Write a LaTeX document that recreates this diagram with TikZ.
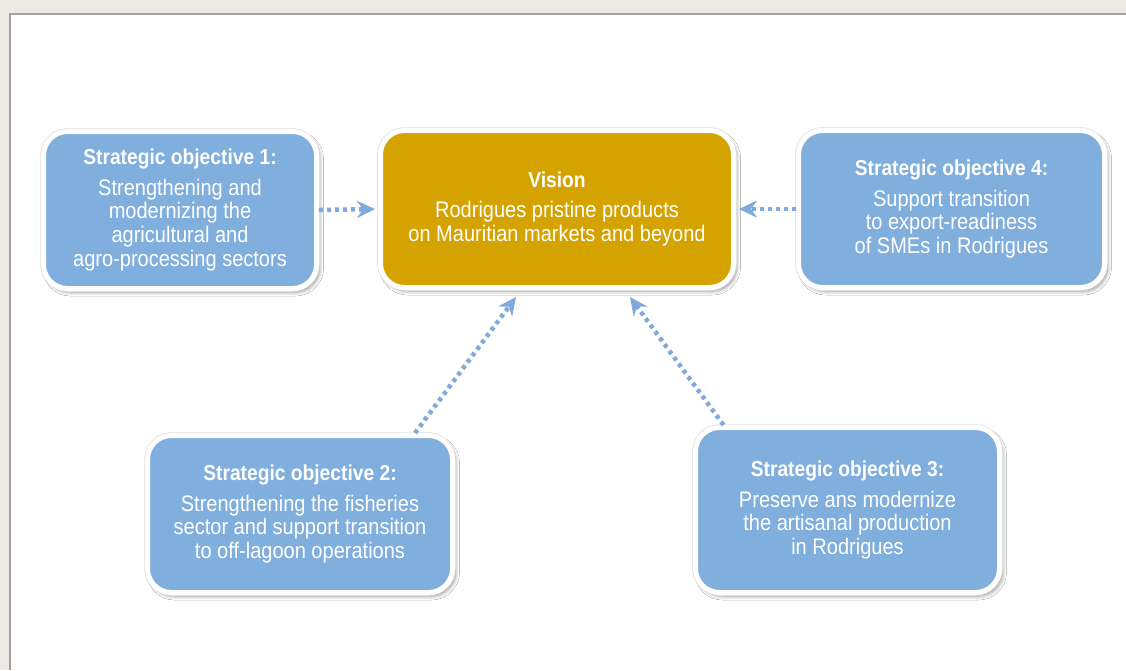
\documentclass[tikz,border=0pt]{standalone}
\usepackage{fontspec}
\setmainfont{Liberation Sans}[FakeStretch=0.89]
\usetikzlibrary{arrows.meta,shadows.blur}
\definecolor{bluebox}{HTML}{80AEDD}
\definecolor{goldbox}{HTML}{D4A300}
\definecolor{framebg}{HTML}{ECE9E4}
\definecolor{frameline}{HTML}{A2A29C}
\definecolor{arrowblue}{HTML}{7FAADB}
\tikzset{
  objbox/.style={rectangle, fill=bluebox,
    text=white, align=center, inner sep=0pt,
    font=\fontsize{22.5}{23.8}\selectfont,
    blur shadow={shadow xshift=3pt, shadow yshift=-3.5pt, shadow opacity=45, shadow blur radius=4pt},
    preaction={draw=black!13, line width=6.5pt},
    draw=white, line width=5pt, rounded corners=24pt},
  visbox/.style={objbox, fill=goldbox},
  dotarrow/.style={draw=arrowblue, line width=4.5pt, dash pattern=on 4pt off 4pt,
    -{Stealth[length=18pt,width=17pt,inset=6pt]}}
}
\newcommand{\ttl}[1]{{\bfseries\fontsize{21.6}{23.8}\selectfont #1}\\[7pt]}
\begin{document}
\begin{tikzpicture}[x=1pt,y=1pt]
\useasboundingbox (0,0) rectangle (1126,-670);
\fill[framebg] (0,0) rectangle (1126,-670);
\fill[white] (9,-13) rectangle (1126,-670);
\draw[frameline, line width=1.5pt] (9.75,-670) -- (9.75,-13.75) -- (1126,-13.75);

\node[objbox, minimum width=273pt, minimum height=157pt] (so1) at (180,-210)
  {\ttl{Strategic objective 1:}Strengthening and\\modernizing the\\agricultural and\\agro-processing sectors};
\node[visbox, minimum width=353pt, minimum height=157pt] (vision) at (557,-209)
  {\ttl{Vision}Rodrigues pristine products\\on Mauritian markets and beyond};
\node[objbox, minimum width=306pt, minimum height=157pt] (so4) at (951.5,-209)
  {\ttl{Strategic objective 4:}Support transition\\to export-readiness\\of SMEs in Rodrigues};
\node[objbox, minimum width=305pt, minimum height=157pt] (so2) at (300,-514)
  {\ttl{Strategic objective 2:}Strengthening the fisheries\\sector and support transition\\to off-lagoon operations};
\node[objbox, minimum width=304pt, minimum height=165pt] (so3) at (847.5,-510)
  {\ttl{Strategic objective 3:}Preserve ans modernize\\the artisanal production\\in Rodrigues};

\draw[dotarrow, shorten >=3pt] (so1.east) -- (vision.west);
\draw[dotarrow, shorten >=3pt] (so4.west) -- (vision.east);
\draw[dotarrow] ([xshift=115pt]so2.north) -- ([xshift=-41pt,yshift=-7pt]vision.south);
\draw[dotarrow] ([xshift=-124pt]so3.north) -- ([xshift=73pt,yshift=-7pt]vision.south);
\end{tikzpicture}
\end{document}
